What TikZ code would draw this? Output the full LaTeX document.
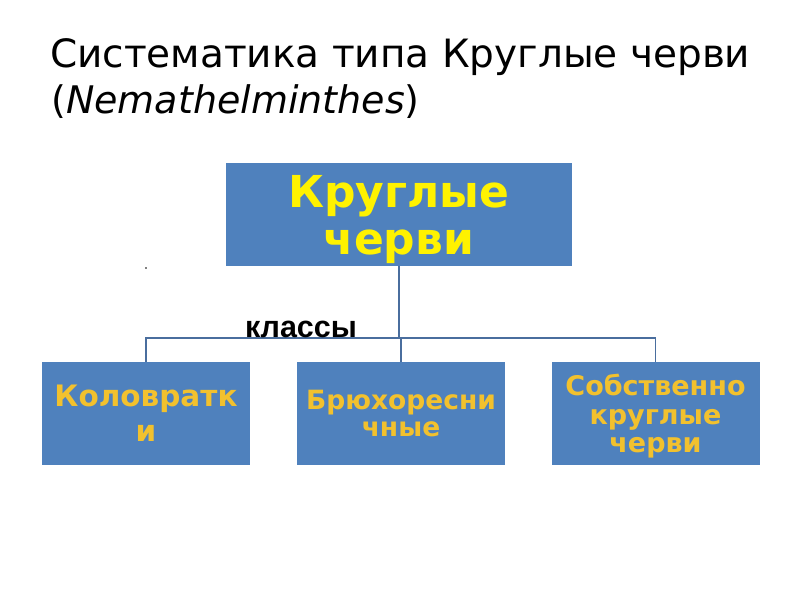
\documentclass[tikz,border=0pt]{standalone}
\usepackage{fontspec}
\setmainfont{DejaVu Sans}
\newfontfamily\labelfont{Liberation Sans}
\usepackage{tikz}
\usetikzlibrary{positioning}

\definecolor{boxblue}{HTML}{4F81BD}
\definecolor{linkblue}{HTML}{4A6E9E}
\definecolor{textgold}{HTML}{F2C12E}

\tikzset{
  taxon/.style={fill=boxblue, inner sep=0pt, align=center, text depth=0pt, font=\bfseries},
  classbox/.style={taxon, minimum width=208pt, minimum height=103pt, text=textgold},
  link/.style={draw=linkblue, line width=1.6pt}
}

\begin{document}
\begin{tikzpicture}[x=1pt, y=-1pt]
    \useasboundingbox (0,0) rectangle (800,600);

    % Title in two lines
    \node[anchor=base west, inner sep=0pt, font=\fontsize{39}{46}\selectfont] (title1) at (50,67)
        {Систематика типа Круглые черви};
    \node[anchor=base west, inner sep=0pt, font=\fontsize{38}{46}\selectfont] (title2) at (51,113)
        {(\textit{Nemathelminthes})};

    % The phylum
    \node[taxon, minimum width=346pt, minimum height=103pt, text=yellow,
          font=\bfseries\fontsize{44}{47}\selectfont] (phylum) at (399,214.5)
        {Круглые\\черви};

    % The three classes
    \node[classbox, font=\bfseries\fontsize{29.5}{35}\selectfont] (kol) at (146,413.5)
        {Коловратк\\и};
    \node[classbox, font=\bfseries\fontsize{26.5}{26.5}\selectfont] (bru) at (401,413.5)
        {Брюхоресни\\чные};
    \node[classbox, font=\bfseries\fontsize{27}{28.5}\selectfont] (sob) at (655.5,413.5)
        {Собственно\\круглые\\черви};

    % Bus line between phylum and classes
    \coordinate (hub) at (399,338);
    \draw[link] (phylum.south) -- (phylum.south |- hub);
    \draw[link] (kol.north) |- (sob.north |- hub) -- (sob.north);
    \draw[link] (bru.north) -- (bru.north |- hub);

    % Label of the bus
    \node[anchor=base, inner sep=0pt, font=\labelfont\bfseries\fontsize{30.5}{34}\selectfont] (klassy) at (301,337)
        {классы};

    % Stray dot
    \fill (146,268) circle[radius=0.9pt];
\end{tikzpicture}
\end{document}
